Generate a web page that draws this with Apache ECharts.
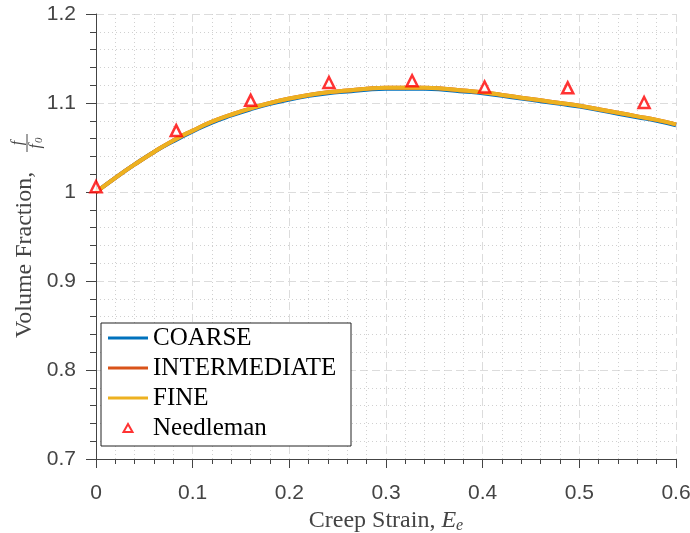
<!DOCTYPE html>
<html>
<head>
<meta charset="utf-8">
<script src="https://cdn.jsdelivr.net/npm/echarts@6/dist/echarts.min.js"></script>
<style>
  html, body { margin: 0; padding: 0; background: #fff; }
  #chart { width: 690px; height: 533px; }
</style>
</head>
<body>
<div id="chart"></div>
<script>
// creep strain samples for the FE curves
const strain = [0, 0.02, 0.04, 0.06, 0.08, 0.1, 0.12, 0.14, 0.16, 0.18, 0.2,
  0.22, 0.24, 0.26, 0.28, 0.3, 0.32, 0.34, 0.36, 0.38, 0.4,
  0.42, 0.44, 0.46, 0.48, 0.5, 0.52, 0.54, 0.56, 0.58, 0.6];
const coarse = [1.000, 1.016, 1.031, 1.045, 1.057, 1.068, 1.078, 1.086, 1.093, 1.099, 1.104,
  1.108, 1.111, 1.113, 1.115, 1.116, 1.116, 1.116, 1.115, 1.113, 1.111,
  1.108, 1.105, 1.102, 1.099, 1.096, 1.092, 1.088, 1.084, 1.080, 1.075];
const intermediate = [1.000, 1.016, 1.031, 1.045, 1.058, 1.069, 1.079, 1.087, 1.094, 1.100, 1.105,
  1.109, 1.112, 1.114, 1.116, 1.117, 1.117, 1.117, 1.116, 1.114, 1.112,
  1.109, 1.106, 1.103, 1.100, 1.097, 1.093, 1.089, 1.085, 1.081, 1.076];
const fine = [1.000, 1.016, 1.031, 1.045, 1.058, 1.069, 1.079, 1.087, 1.094, 1.100, 1.105,
  1.109, 1.112, 1.114, 1.116, 1.117, 1.117, 1.117, 1.116, 1.114, 1.112,
  1.109, 1.106, 1.103, 1.100, 1.097, 1.093, 1.089, 1.085, 1.081, 1.076];
// Needleman reference points
const needleX = [0, 0.083, 0.16, 0.241, 0.327, 0.402, 0.488, 0.567];
const needleY = [1.006, 1.069, 1.103, 1.123, 1.125, 1.118, 1.117, 1.1005];

const seriesNames = ["COARSE", "INTERMEDIATE", "FINE", "Needleman"];
const lineColors = ["#0072BD", "#D95319", "#EDB120"];

const chart = echarts.init(document.getElementById("chart"));

const axisGray = "#444444";
const serif = '"Liberation Serif", serif';

// legend icons: a thin bar for the curves, a small triangle for the points
// (corner moveTo's keep the icon box at 40x10 so nothing gets stretched)
const lineIcon = "path://M0,0M0,3.5L40,3.5L40,6.5L0,6.5ZM40,10";
const triIcon = "path://M0,0M15.5,9L20,1L24.5,9ZM40,10";

const lineSeries = [coarse, intermediate, fine].map((vals, i) => ({
  name: seriesNames[i],
  type: "line",
  data: strain.map((x, j) => [x, vals[j]]),
  symbol: "none",
  smooth: true,
  color: lineColors[i],
  lineStyle: { width: 4, color: lineColors[i] },
  z: 2 + i,
}));

const option = {
  animation: false,
  backgroundColor: "#fff",
  grid: { left: 96, right: 14, top: 14, bottom: 74, outerBoundsMode: "none" },
  legend: {
    orient: "vertical",
    left: 101,
    top: 323,
    padding: [2, 8, 5, 6],
    itemWidth: 40,
    itemHeight: 10,
    itemGap: 4,
    backgroundColor: "#fff",
    borderColor: "#222",
    borderWidth: 1,
    borderRadius: 0,
    textStyle: {
      fontFamily: serif,
      fontSize: 25,
      color: "#000",
      lineHeight: 26,
      width: 190,
    },
    data: [
      { name: seriesNames[0], icon: lineIcon },
      { name: seriesNames[1], icon: lineIcon },
      { name: seriesNames[2], icon: lineIcon },
      { name: seriesNames[3], icon: triIcon },
    ],
  },
  xAxis: {
    type: "value",
    min: 0,
    max: 0.6,
    interval: 0.1,
    name: "{a|Creep Strain, }{b|E}{c|e}",
    nameLocation: "middle",
    nameGap: 43,
    nameTextStyle: {
      rich: {
        a: { fontFamily: serif, fontSize: 24, color: axisGray },
        b: { fontFamily: serif, fontSize: 24, fontStyle: "italic", color: axisGray },
        c: { fontFamily: serif, fontSize: 16, fontStyle: "italic", color: axisGray, padding: [10, 0, 0, 0] },
      },
    },
    axisLine: { show: true, onZero: false, lineStyle: { color: axisGray, width: 1 } },
    axisTick: { show: true, inside: false, length: 9, lineStyle: { color: axisGray } },
    minorTick: { show: true, splitNumber: 5, length: 5, lineStyle: { color: axisGray } },
    axisLabel: { fontFamily: "Liberation Sans", fontSize: 21, color: axisGray, margin: 24 },
    splitLine: { show: true, lineStyle: { color: "#dcdcdc", type: [8, 4], width: 1 } },
    minorSplitLine: { show: true, lineStyle: { color: "#d0d0d0", type: [1, 3], width: 1 } },
  },
  yAxis: {
    type: "value",
    min: 0.7,
    max: 1.2,
    interval: 0.1,
    axisLine: { show: true, onZero: false, lineStyle: { color: axisGray, width: 1 } },
    axisTick: { show: true, inside: false, length: 10, lineStyle: { color: axisGray } },
    minorTick: { show: true, splitNumber: 5, length: 6, lineStyle: { color: axisGray } },
    axisLabel: { fontFamily: "Liberation Sans", fontSize: 21, color: axisGray, margin: 20 },
    splitLine: { show: true, lineStyle: { color: "#dcdcdc", type: [8, 4], width: 1 } },
    minorSplitLine: { show: true, lineStyle: { color: "#d0d0d0", type: [1, 3], width: 1 } },
  },
  graphic: [
    {
      // rotated y-axis title with a stacked fraction
      type: "group",
      x: 25,
      y: 237,
      rotation: Math.PI / 2,
      children: [
        {
          type: "text",
          x: -101,
          y: 0,
          style: { text: "Volume Fraction,", font: '24px "Liberation Serif"', fill: axisGray, textAlign: "left", textVerticalAlign: "middle" },
        },
        {
          type: "text",
          x: 94,
          y: -7,
          style: { text: "f", font: 'italic 16px "Liberation Serif"', fill: axisGray, textAlign: "center", textVerticalAlign: "middle" },
        },
        {
          type: "line",
          shape: { x1: 85, y1: 2, x2: 103, y2: 2 },
          style: { stroke: axisGray, lineWidth: 1 },
        },
        {
          type: "text",
          x: 93,
          y: 11,
          style: { text: "f", font: 'italic 16px "Liberation Serif"', fill: axisGray, textAlign: "right", textVerticalAlign: "middle" },
        },
        {
          type: "text",
          x: 94,
          y: 14,
          style: { text: "0", font: 'italic 11px "Liberation Serif"', fill: axisGray, textAlign: "left", textVerticalAlign: "middle" },
        },
      ],
    },
  ],
  series: [
    ...lineSeries,
    {
      name: seriesNames[3],
      type: "scatter",
      data: needleX.map((x, i) => [x, needleY[i]]),
      symbol: "triangle",
      symbolSize: 11,
      itemStyle: { color: "#fff", borderColor: "#ff0000", borderWidth: 2.5 },
      z: 6,
    },
  ],
};

chart.setOption(option);
</script>
</body>
</html>
